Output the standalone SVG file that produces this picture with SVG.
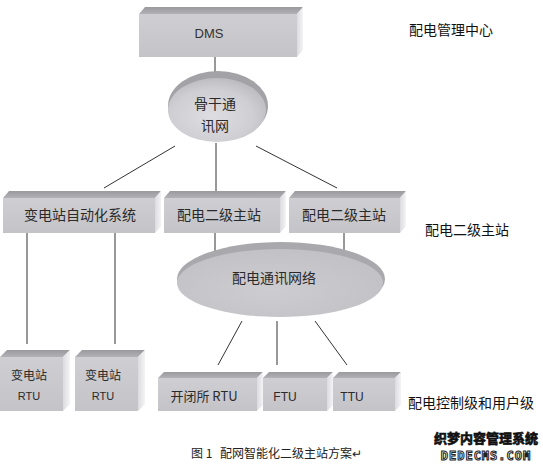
<svg xmlns="http://www.w3.org/2000/svg" width="543" height="466" viewBox="0 0 543 466">
<style>
.top{fill:url(#gTop)}
.front{fill:url(#gFront)}
.side{fill:url(#gSide)}
.lbl{font-family:"Noto Sans CJK SC","Liberation Sans",sans-serif;font-size:14px;fill:#2a2a2a;text-anchor:middle;dominant-baseline:central}
.lat{font-family:"Liberation Sans","Noto Sans CJK SC",sans-serif;font-size:12px;fill:#2a2a2a;text-anchor:middle;dominant-baseline:central}
.side-lbl{font-family:"Noto Sans CJK SC",sans-serif;font-size:14px;fill:#111;dominant-baseline:central}
.ln{stroke:#333;stroke-width:1;fill:none}
</style>
<defs>
<linearGradient id="gTop" x1="0" y1="0" x2="0" y2="1"><stop offset="0" stop-color="#9a999e"/><stop offset="1" stop-color="#b2b1b6"/></linearGradient>
<linearGradient id="gFront" x1="0" y1="0" x2="0" y2="1"><stop offset="0" stop-color="#cfced2"/><stop offset="1" stop-color="#c4c3c7"/></linearGradient>
<linearGradient id="gSide" x1="0" y1="0" x2="1" y2="0"><stop offset="0" stop-color="#dcdce0"/><stop offset="1" stop-color="#f4f4f6"/></linearGradient>
<radialGradient id="gBone" cx="0.45" cy="0.6" r="0.6"><stop offset="0" stop-color="#dedee2"/><stop offset="0.7" stop-color="#cfcfd3"/><stop offset="1" stop-color="#bdbdc1"/></radialGradient>
<radialGradient id="gNet" cx="0.45" cy="0.6" r="0.6"><stop offset="0" stop-color="#cdcdd1"/><stop offset="1" stop-color="#c2c2c6"/></radialGradient>
</defs>

<g id="connectors">
<line class="ln" x1="215" y1="57" x2="215" y2="74"/>
<line class="ln" x1="175" y1="146" x2="104" y2="188"/>
<line class="ln" x1="216" y1="143" x2="216" y2="191"/>
<line class="ln" x1="256" y1="146" x2="337" y2="188"/>
<line class="ln" x1="27" y1="233" x2="27" y2="344"/>
<line class="ln" x1="115" y1="233" x2="115" y2="344"/>
<line class="ln" x1="215" y1="233" x2="215" y2="258"/>
<line class="ln" x1="344" y1="233" x2="344" y2="260"/>
<line class="ln" x1="242" y1="321" x2="218" y2="365"/>
<line class="ln" x1="277" y1="321" x2="277" y2="365"/>
<line class="ln" x1="315" y1="321" x2="347" y2="365"/>
</g>

<g id="dms">
<polygon class="top" points="139,14 145,7 303,7 297,14"/>
<polygon class="side" points="297,14 303,7 303,50 297,57"/>
<rect class="front" x="139" y="14" width="158" height="43"/>
<text class="lat" x="209" y="33" style="font-size:13px;fill:#333">DMS</text>
</g>

<g id="backbone">
<ellipse cx="218" cy="106" rx="50" ry="35" fill="#a3a3a7"/>
<ellipse cx="217" cy="110" rx="49" ry="32" fill="url(#gBone)"/>
<text class="lbl" x="215" y="103">骨干通</text>
<text class="lbl" x="215" y="125">讯网</text>
</g>

<g id="substation-auto">
<polygon class="top" points="3,198 9,191 161,191 155,198"/>
<polygon class="side" points="155,198 161,191 161,226 155,233"/>
<rect class="front" x="3" y="198" width="152" height="35"/>
<text class="lbl" x="80" y="214">变电站自动化系统</text>
</g>

<g id="master1">
<polygon class="top" points="164,198 170,191 286,191 280,198"/>
<polygon class="side" points="280,198 286,191 286,226 280,233"/>
<rect class="front" x="164" y="198" width="116" height="35"/>
<text class="lbl" x="219" y="214">配电二级主站</text>
</g>

<g id="master2">
<polygon class="top" points="289,198 295,191 406,191 400,198"/>
<polygon class="side" points="400,198 406,191 406,226 400,233"/>
<rect class="front" x="289" y="198" width="111" height="35"/>
<text class="lbl" x="344" y="214">配电二级主站</text>
</g>

<g id="comm-net">
<ellipse cx="281" cy="279" rx="104" ry="37" fill="#a9a9ad"/>
<ellipse cx="280" cy="283" rx="103" ry="34" fill="url(#gNet)"/>
<text class="lbl" x="274" y="277">配电通讯网络</text>
</g>

<g id="rtu-a">
<polygon class="top" points="0,357 7,350 70,350 63,357"/>
<polygon class="side" points="63,357 70,350 70,404 63,411"/>
<rect class="front" x="0" y="357" width="63" height="54"/>
<text class="lbl" x="29" y="374" style="font-size:12px">变电站</text>
<text class="lat" x="29" y="396" style="font-size:11px">RTU</text>
</g>

<g id="rtu-b">
<polygon class="top" points="75,357 82,350 145,350 138,357"/>
<polygon class="side" points="138,357 145,350 145,404 138,411"/>
<rect class="front" x="75" y="357" width="63" height="54"/>
<text class="lbl" x="103" y="374" style="font-size:12px">变电站</text>
<text class="lat" x="103" y="396" style="font-size:11px">RTU</text>
</g>

<g id="kbs-rtu">
<polygon class="top" points="158,378 164,372 263,372 257,378"/>
<polygon class="side" points="257,378 263,372 263,405 257,411"/>
<rect class="front" x="158" y="378" width="99" height="33"/>
<text class="lbl" x="204" y="395" style="font-size:13px">开闭所 RTU</text>
</g>

<g id="ftu">
<polygon class="top" points="263,378 269,372 333,372 327,378"/>
<polygon class="side" points="327,378 333,372 333,405 327,411"/>
<rect class="front" x="263" y="378" width="64" height="33"/>
<text class="lat" x="285" y="397">FTU</text>
</g>

<g id="ttu">
<polygon class="top" points="333,378 339,372 401,372 395,378"/>
<polygon class="side" points="395,378 401,372 401,405 395,411"/>
<rect class="front" x="333" y="378" width="62" height="33"/>
<text class="lat" x="352" y="397">TTU</text>
</g>

<g id="level-labels">
<text class="side-lbl" x="409" y="29">配电管理中心</text>
<text class="side-lbl" x="425" y="229">配电二级主站</text>
<text class="side-lbl" x="408" y="402">配电控制级和用户级</text>
</g>

<g id="caption">
<text x="191" y="452" style="font-family:'Noto Sans CJK SC',sans-serif;font-size:12px;fill:#222;dominant-baseline:central">图 1<tspan x="220">配网智能化二级主站方案↵</tspan></text>
</g>

<g id="watermark">
<text x="486" y="437" style="font-family:'Noto Sans CJK SC',sans-serif;font-size:13px;font-weight:700;fill:#111;stroke:#111;stroke-width:0.7;text-anchor:middle;dominant-baseline:central">织梦内容管理系统</text>
<text x="486" y="456" style="font-family:'DejaVu Sans Mono',monospace;font-size:12px;font-weight:bold;fill:#fff;stroke:#222;stroke-width:1;letter-spacing:1px;text-anchor:middle;dominant-baseline:central">DEDECMS.COM</text>
</g>
</svg>
